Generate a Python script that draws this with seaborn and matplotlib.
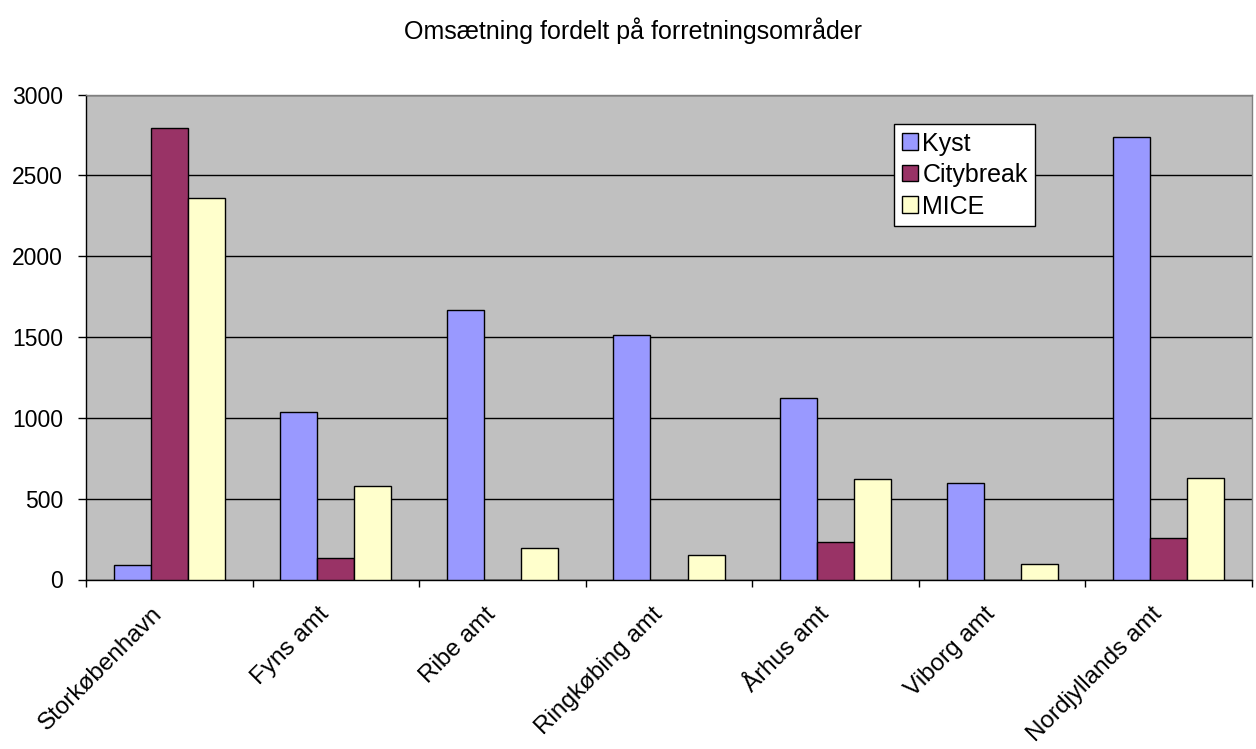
import matplotlib
matplotlib.use("Agg")
import matplotlib.pyplot as plt
import matplotlib.transforms as mtransforms
import seaborn as sns
import pandas as pd
from matplotlib.ticker import FixedLocator, NullFormatter

regions = ["Storkøbenhavn", "Fyns amt", "Ribe amt", "Ringkøbing amt",
           "Århus amt", "Viborg amt", "Nordjyllands amt"]
kyst = [90, 1035, 1670, 1515, 1125, 600, 2740]
citybreak = [2790, 130, 0, 0, 235, 0, 255]
mice = [2360, 580, 195, 150, 620, 95, 630]
series_names = ["Kyst", "Citybreak", "MICE"]
series_colors = ["#9999FF", "#993366", "#FFFFCC"]
title = "Omsætning fordelt på forretningsområder"
yticks = [0, 500, 1000, 1500, 2000, 2500, 3000]

rows = []
for name, vals in zip(series_names, [kyst, citybreak, mice]):
    for r, v in zip(regions, vals):
        rows.append({"Område": r, "Serie": name, "Værdi": v})
df = pd.DataFrame(rows)

sns.set_style("white")
plt.rcParams["font.family"] = ["Liberation Sans", "DejaVu Sans"]
plt.rcParams["text.color"] = "black"
plt.rcParams["xtick.color"] = "black"
plt.rcParams["ytick.color"] = "black"
plt.rcParams["axes.labelcolor"] = "black"

fig = plt.figure(figsize=(12.56, 7.49), dpi=100)
ax = fig.add_axes([86 / 1256, 1 - 579.5 / 749, 1166 / 1256, 485 / 749])
ax.set_facecolor("#C0C0C0")

sns.barplot(data=df, x="Område", y="Værdi", hue="Serie", order=regions,
            hue_order=series_names, palette=series_colors, saturation=1,
            width=0.667, edgecolor="black", linewidth=1, ax=ax, zorder=3,
            errorbar=None)

ax.set_ylim(0, 3000)
ax.set_yticks(yticks)
ax.set_xlim(-0.5, len(regions) - 0.5)
ax.yaxis.grid(True, color="#000000", linewidth=1, zorder=0)
ax.set_axisbelow(True)
ax.set_xlabel("")
ax.set_ylabel("")

ax.set_xticks(range(len(regions)))
ax.set_xticklabels(regions, rotation=45, ha="right", va="top",
                   rotation_mode="anchor", fontsize=17.5)
ax.tick_params(axis="x", which="major", length=0, pad=12)
offset = mtransforms.ScaledTranslation(-18 / 100, -7 / 100, fig.dpi_scale_trans)
for lbl in ax.get_xticklabels():
    lbl.set_transform(lbl.get_transform() + offset)
ax.xaxis.set_minor_locator(FixedLocator([i - 0.5 for i in range(len(regions) + 1)]))
ax.xaxis.set_minor_formatter(NullFormatter())
ax.tick_params(axis="x", which="minor", length=5, width=1, color="black",
               direction="out", bottom=True)
ax.tick_params(axis="y", length=6, width=1, color="black", direction="out",
               left=True, labelsize=16.5, pad=10.5)

for s in ["left", "bottom"]:
    ax.spines[s].set_color("black")
    ax.spines[s].set_linewidth(1)
for s in ["top", "right"]:
    ax.spines[s].set_color("#808080")
    ax.spines[s].set_linewidth(1)

fig.text(633 / 1256, 1 - 31 / 749, title, ha="center", va="center",
         fontsize=18, color="black")

leg = ax.legend(loc="upper left", bbox_to_anchor=(894 / 1256, 1 - 124 / 749),
                bbox_transform=fig.transFigure, fontsize=18, frameon=True,
                fancybox=False, edgecolor="black", facecolor="white",
                framealpha=1, borderpad=0.3, labelspacing=0.3,
                handlelength=0.64, handleheight=0.64, handletextpad=0.2,
                borderaxespad=0)
leg.get_frame().set_linewidth(1)
leg.set_zorder(5)

fig.savefig("out.png", dpi=100)
